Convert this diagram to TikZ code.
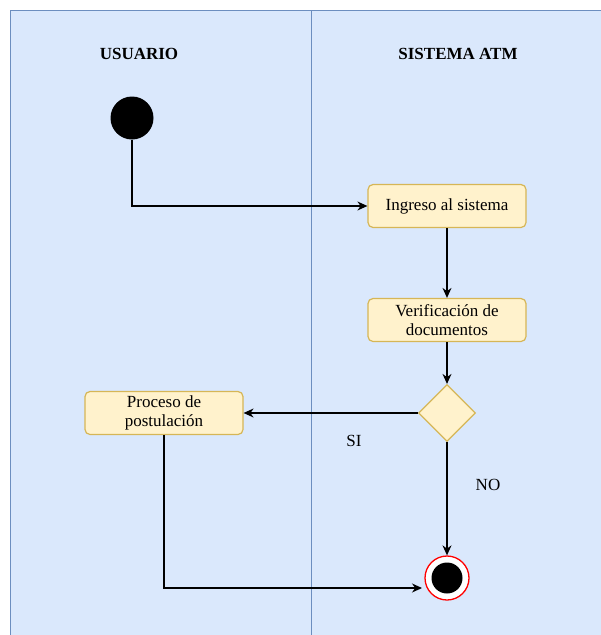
\documentclass[tikz,border=0pt]{standalone}
\usepackage{fontspec}
\setmainfont{Liberation Serif}
\usetikzlibrary{shapes.geometric,arrows.meta}
\definecolor{lanefill}{HTML}{DAE8FC}
\definecolor{lanedraw}{HTML}{6C8EBF}
\definecolor{boxfill}{HTML}{FFF2CC}
\definecolor{boxdraw}{HTML}{D6B656}
\begin{document}
\begin{tikzpicture}[x=1pt,y=-1pt,
  every node/.style={font=\fontsize{17}{19}\selectfont},
  actbox/.style={draw=boxdraw,fill=boxfill,line width=1.2pt,rounded corners=5pt,minimum width=158pt,minimum height=43pt,inner sep=2pt,align=center},
  decbox/.style={draw=boxdraw,fill=boxfill,line width=1.2pt,diamond,minimum width=57pt,minimum height=57pt,inner sep=0pt},
  flow/.style={draw=black,line width=1.3pt,-{Stealth[length=10pt,width=9pt]}},
  lane/.style={draw=lanedraw,fill=lanefill,line width=1pt},
  head/.style={font=\fontsize{17}{19}\selectfont\bfseries}]
\useasboundingbox (0,0) rectangle (601,635);
\fill[white] (0,0) rectangle (601,635);
\draw[lane] (10,10) rectangle (620,650);
\draw[draw=lanedraw,line width=1pt] (311,10) -- (311,650);
\node[head] (h1) at (139,54) {USUARIO};
\node[head] (h2) at (458,54) {SISTEMA ATM};
\node[circle,fill=black,minimum size=43pt,inner sep=0pt] (start) at (132,118) {};
\node[actbox] (ing) at (447,206) {Ingreso al sistema};
\node[actbox] (ver) at (447,320) {Verificación de\\documentos};
\node[decbox] (dec) at (447,413) {};
\node[actbox] (proc) at (164,413) {Proceso de\\postulación};
\node[circle,draw=red,line width=1.3pt,fill=white,minimum size=44pt,inner sep=0pt] (fin) at (447,578) {};
\node[circle,fill=black,minimum size=31pt,inner sep=0pt] (finin) at (447,578) {};
\node (si) at (354,441) {SI};
\node (no) at (488,485) {NO};
\coordinate (pin) at (422,588);
\draw[flow] (start.south) |- (ing.west);
\draw[flow] (ing.south) -- (ver.north);
\draw[flow] (ver.south) -- (dec.north);
\draw[flow] (dec.west) -- (proc.east);
\draw[flow] (dec.south) -- (fin.north);
\draw[flow] (proc.south) |- (pin);
\end{tikzpicture}
\end{document}
